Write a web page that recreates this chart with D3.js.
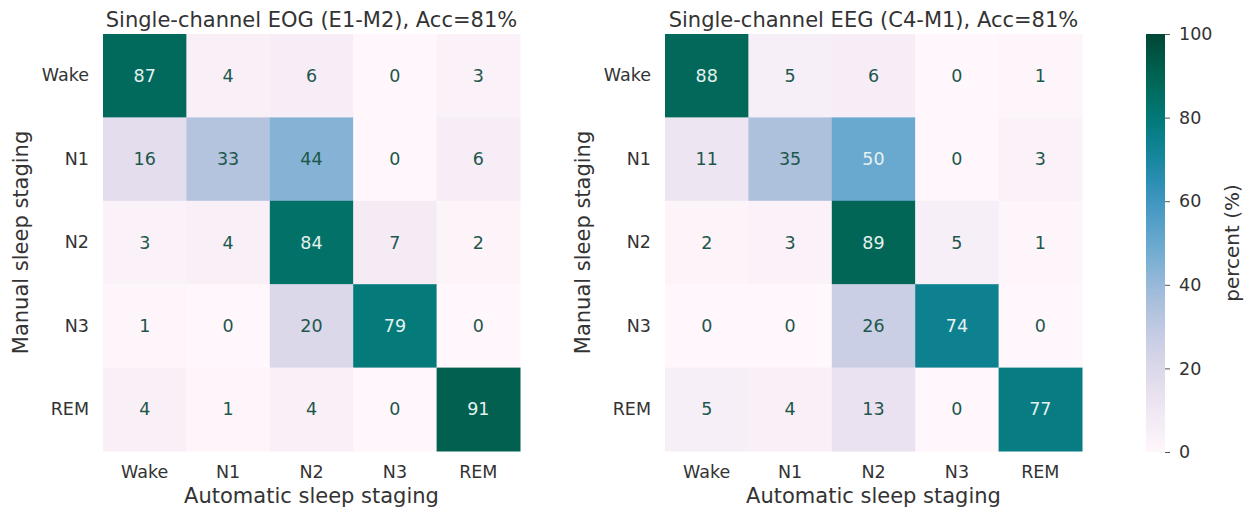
<!DOCTYPE html>
<html><head><meta charset="utf-8">
<script src="https://cdn.jsdelivr.net/npm/d3@7"></script>
<style>body{margin:0;background:#fff;} text{font-family:"DejaVu Sans",sans-serif;}</style>
</head><body>
<svg id="c" width="1250" height="513"></svg>
<script>
const stages = ["Wake","N1","N2","N3","REM"];
const titles = ["Single-channel EOG (E1-M2), Acc=81%","Single-channel EEG (C4-M1), Acc=81%"];
const eogValues = [
  [87,4,6,0,3],
  [16,33,44,0,6],
  [3,4,84,7,2],
  [1,0,20,79,0],
  [4,1,4,0,91]
];
const eegValues = [
  [88,5,6,0,1],
  [11,35,50,0,3],
  [2,3,89,5,1],
  [0,0,26,74,0],
  [5,4,13,0,77]
];
const colorTicks = [0,20,40,60,80,100];
const xLabel = "Automatic sleep staging";
const yLabel = "Manual sleep staging";
const cbLabel = "percent (%)";

const svg = d3.select("#c");
const color = d3.scaleSequential(d3.interpolatePuBuGn).domain([0,100]);
const plotTop = 34, size = 417;
const panels = [{left:103, data:eogValues, title:titles[0]},{left:665, data:eegValues, title:titles[1]}];
const textCol = "#333";

panels.forEach(p => {
  const g = svg.append("g").attr("transform", `translate(${p.left},${plotTop})`);
  const x = d3.scaleBand().domain(stages).range([0,size]);
  const y = d3.scaleBand().domain(stages).range([0,size]);
  const cells = [];
  p.data.forEach((row,i)=>row.forEach((v,j)=>cells.push({r:stages[i],c:stages[j],v})));
  g.selectAll("rect").data(cells).join("rect")
    .attr("x",d=>x(d.c)).attr("y",d=>y(d.r))
    .attr("width",x.bandwidth()+0.5).attr("height",y.bandwidth()+0.5)
    .attr("fill",d=>color(d.v));
  g.selectAll("text.ann").data(cells).join("text").attr("class","ann")
    .attr("x",d=>x(d.c)+x.bandwidth()/2).attr("y",d=>y(d.r)+y.bandwidth()/2)
    .attr("text-anchor","middle").attr("dominant-baseline","central")
    .attr("font-size",17.5)
    .attr("fill",d=>d.v>=47?"#e4f2ee":"#1e574b")
    .text(d=>d.v);
  const xa = g.append("g").attr("transform",`translate(0,${size})`)
    .call(d3.axisBottom(x).tickSize(0).tickPadding(15));
  xa.select(".domain").remove();
  xa.selectAll("text").attr("font-size",17.5).attr("fill",textCol).attr("font-family","DejaVu Sans");
  const ya = g.append("g").call(d3.axisLeft(y).tickSize(0).tickPadding(14));
  ya.select(".domain").remove();
  ya.selectAll("text").attr("font-size",17.5).attr("fill",textCol).attr("font-family","DejaVu Sans");
  g.append("text").attr("x",size/2).attr("y",-7).attr("text-anchor","middle")
    .attr("font-size",21).attr("fill",textCol).text(p.title);
  g.append("text").attr("x",size/2).attr("y",size+52).attr("text-anchor","middle")
    .attr("font-size",21).attr("fill",textCol).text(xLabel);
  g.append("text").attr("transform",`translate(${-75},${size/2}) rotate(-90)`)
    .attr("text-anchor","middle").attr("font-size",21).attr("fill",textCol).text(yLabel);
});

// colorbar
const cbX = 1146, cbW = 19, cbTop = 34, cbBot = 452;
const defs = svg.append("defs");
const grad = defs.append("linearGradient").attr("id","cbg").attr("x1",0).attr("y1",1).attr("x2",0).attr("y2",0);
d3.range(0,101,5).forEach(t=>grad.append("stop").attr("offset",t+"%").attr("stop-color",color(t)));
svg.append("rect").attr("x",cbX).attr("y",cbTop).attr("width",cbW).attr("height",cbBot-cbTop).attr("fill","url(#cbg)");
const cy = d3.scaleLinear().domain([0,100]).range([cbBot,cbTop]);
const ca = svg.append("g").attr("transform",`translate(${cbX+cbW},0)`)
  .call(d3.axisRight(cy).tickValues(colorTicks).tickSize(5).tickPadding(9));
ca.select(".domain").remove();
ca.selectAll("line").attr("stroke","#555");
ca.selectAll("text").attr("font-size",17.5).attr("fill",textCol).attr("font-family","DejaVu Sans");
svg.append("text").attr("transform",`translate(1239,${(cbTop+cbBot)/2}) rotate(-90)`)
  .attr("text-anchor","middle").attr("font-size",20).attr("fill",textCol).text(cbLabel);
</script>
</body></html>
